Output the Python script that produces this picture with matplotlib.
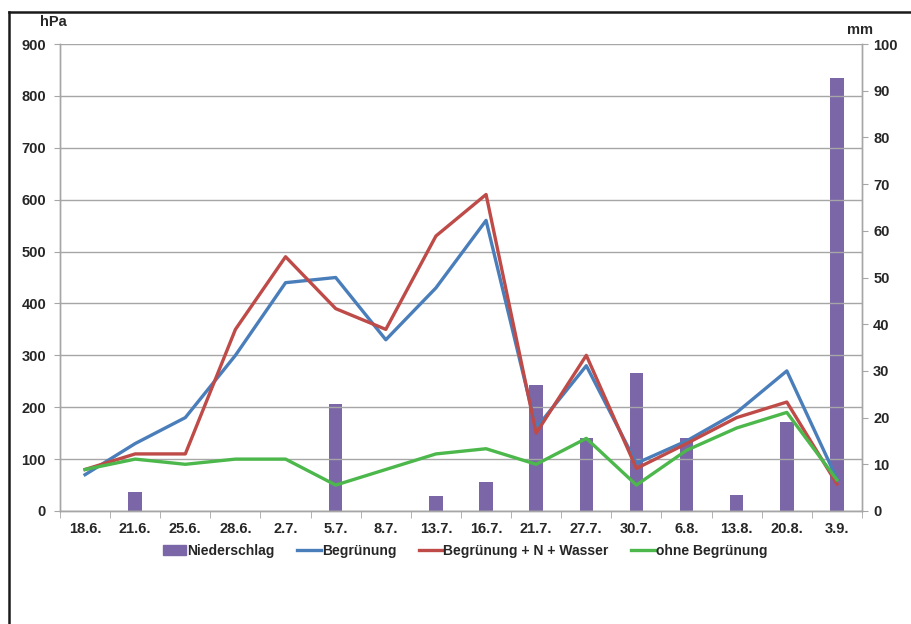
import matplotlib
matplotlib.use("Agg")
import matplotlib.pyplot as plt
from matplotlib.lines import Line2D
from matplotlib.patches import Patch
import numpy as np

plt.rcParams['font.family'] = ['Liberation Sans', 'DejaVu Sans']
plt.rcParams['font.weight'] = 'bold'
plt.rcParams['text.color'] = '#262626'
plt.rcParams['xtick.labelcolor'] = '#262626'
plt.rcParams['ytick.labelcolor'] = '#262626'

dates = ["18.6.", "21.6.", "25.6.", "28.6.", "2.7.", "5.7.", "8.7.", "13.7.",
         "16.7.", "21.7.", "27.7.", "30.7.", "6.8.", "13.8.", "20.8.", "3.9."]
niederschlag = [0, 4, 0, 0, 0, 23, 0, 3.2, 6.2, 27, 15.6, 29.5, 15.6, 3.4, 19, 92.7]
begruenung = [70, 130, 180, 300, 440, 450, 330, 430, 560, 160, 280, 92, 135, 190, 270, 62]
begr_n_wasser = [80, 110, 110, 350, 490, 390, 350, 530, 610, 150, 300, 82, 130, 180, 210, 52]
ohne_begr = [80, 100, 90, 100, 100, 50, 80, 110, 120, 90, 140, 50, 117, 160, 190, 60]

c_purple = '#7B66A8'
c_blue = '#4A7EBB'
c_red = '#BE4B48'
c_green = '#4CB84C'
grid_c = '#A6A6A6'
fs = 10.5

fig = plt.figure(figsize=(9.12, 6.24), dpi=100)
ax = fig.add_axes([60/912, 1-511/624, 802/912, 467/624])
ax2 = ax.twinx()

x = np.arange(len(dates))
ax2.bar(x, niederschlag, width=0.27, color=c_purple, zorder=1)
ax2.set_ylim(0, 100)
ax2.set_yticks(np.arange(0, 101, 10))

ax.set_zorder(ax2.get_zorder() + 1)
ax.patch.set_visible(False)

lw = 2.4
ax.plot(x, begruenung, color=c_blue, lw=lw, zorder=3)
ax.plot(x, begr_n_wasser, color=c_red, lw=lw, zorder=4)
ax.plot(x, ohne_begr, color=c_green, lw=lw, zorder=5)

ax.set_ylim(0, 900)
ax.set_yticks(np.arange(0, 901, 100))
ax.set_xlim(-0.5, len(dates) - 0.5)
ax.set_xticks(x)
ax.set_xticklabels(dates)
ax.set_xticks(np.arange(-0.5, len(dates), 1), minor=True)
ax.tick_params(axis='x', which='major', length=0, pad=8, labelsize=fs)
ax.tick_params(axis='x', which='minor', length=5, color=grid_c, direction='out')
ax.tick_params(axis='y', length=4, color=grid_c, labelsize=fs, pad=6)
ax2.tick_params(axis='y', length=4, color=grid_c, labelsize=fs, pad=4)

ax.yaxis.grid(True, color=grid_c, lw=1)
ax.set_axisbelow(False)
for a in (ax, ax2):
    a.spines['top'].set_visible(False)
    for s in ('left', 'right', 'bottom'):
        a.spines[s].set_color(grid_c)
        a.spines[s].set_linewidth(1)

for t in ax.get_xticklabels() + ax.get_yticklabels() + ax2.get_yticklabels():
    t.set_fontweight('bold')

fig.text(40/912, 1-22/624, "hPa", fontsize=fs, fontweight='bold', va='center', ha='left')
fig.text(860/912, 1-30/624, "mm", fontsize=fs, fontweight='bold', va='center', ha='center')

handles = [Patch(color=c_purple), Line2D([], [], color=c_blue, lw=lw),
           Line2D([], [], color=c_red, lw=lw), Line2D([], [], color=c_green, lw=lw)]
labels = ["Niederschlag", "Begrünung", "Begrünung + N + Wasser", "ohne Begrünung"]
fig.legend(handles, labels, loc='center', bbox_to_anchor=(465/912, 1-551/624), ncol=4,
           frameon=False, handlelength=1.7, handletextpad=0.08,
           columnspacing=1.6, prop={'weight': 'bold', 'size': 10})

# outer frame (left and top edges)
fig.add_artist(Line2D([9/912, 9/912], [0, 1-12/624], color='#1a1a1a', lw=1.8, transform=fig.transFigure))
fig.add_artist(Line2D([9/912, 1], [1-12/624, 1-12/624], color='#1a1a1a', lw=1.8, transform=fig.transFigure))

fig.savefig("out.png", dpi=100)
